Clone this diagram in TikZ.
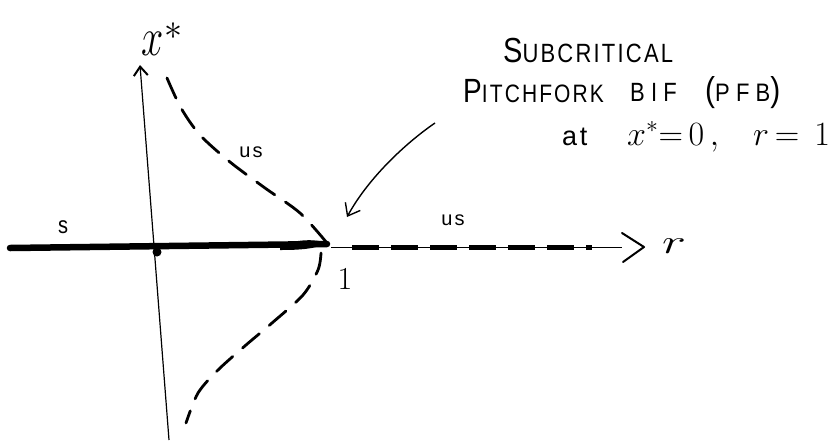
\RequirePackage{fix-cm}
\documentclass[tikz,border=0pt]{standalone}
\usepackage{fontspec}
\newfontfamily\hand[LetterSpace=10]{Liberation Sans}
\newfontfamily\handw[LetterSpace=28]{Liberation Sans}
\usetikzlibrary{arrows.meta}
\begin{document}
\begin{tikzpicture}[x=1pt,y=-1pt,
  thinax/.style={line width=1.2pt},
  stab/.style={line width=6.5pt,line cap=round},
  unst/.style={line width=2.8pt,dash pattern=on 22pt off 13pt,line cap=round},
  lbl/.style={inner sep=0pt,font=\hand\fontsize{20}{20}\selectfont},
  txt/.style={anchor=base west,inner sep=0pt},
]
\useasboundingbox (0,0) rectangle (834,440);
% vertical axis x*
\coordinate (vb) at (169,440);
\coordinate (vt) at (140,65);
\draw[thinax,-{Straight Barb[length=9pt,width=14pt,line width=2pt]}] (vb) -- (vt);
% stable branch
\coordinate (hl) at (10,248);
\coordinate (bp) at (327,244);
\draw[stab] (hl) -- (bp);
\fill (280,245) .. controls (300,239) and (315,239) .. (328,243) .. controls (315,249) and (300,250) .. (280,250) -- cycle;
\fill (157,252) circle (4.5);
% unstable branch on r axis
\coordinate (rs) at (331,247);
\coordinate (ra) at (622,247);
\draw[line width=0.8pt] (rs) -- (ra);
\draw[line width=5pt,dash pattern=on 27pt off 12pt] (352,247) -- (592,247);
\draw[line width=2pt,line cap=round,line join=round] (622,233) -- (644,247) -- (623,262);
% unstable side branches
\draw[unst] plot[smooth,tension=0.5] coordinates {(167,78) (181,108) (200,135) (230,162) (265,188) (300,213) (327,243)};
\draw[unst] plot[smooth,tension=0.5] coordinates {(321,253) (318,270) (303,295) (272,323) (246,345) (218,370) (198,393) (186,423)};
% labels
\node[lbl] (s) at (63,227) {\scalebox{1}[1.2]{s}};
\node[lbl] (us1) at (251,152) {us};
\node[lbl] (us2) at (453,220) {us};
\node[font=\fontsize{32}{32}\selectfont,inner sep=0pt] (one) at (345,279) {1};
\node[txt] (xs) at (141,55) {{\fontsize{40}{40}\selectfont\scalebox{1}[1.35]{$x$}}\kern1pt\raisebox{16pt}{\fontsize{36}{36}\selectfont$*$}};
\node[txt,font=\fontsize{34}{34}\selectfont] (r) at (662,253) {\scalebox{1.5}[1]{$r$}};
% annotation
\node[txt] (t1) at (503,62) {\scalebox{1}[1.2]{\hand\fontsize{29}{29}\selectfont S\fontsize{22}{22}\selectfont UBCRITICAL}};
\node[txt] (t2a) at (463,102) {\scalebox{1}[1.2]{\hand\fontsize{28}{28}\selectfont P\fontsize{21}{21}\selectfont ITCHFORK}};
\node[txt] (t2b) at (630,101) {\scalebox{1}[1.2]{\handw\fontsize{22}{22}\selectfont BIF}};
\node[txt] (t2c) at (705,101) {\scalebox{1}[1.15]{\handw\fontsize{22}{22}\selectfont {\fontsize{30}{30}\selectfont(}PFB{\fontsize{30}{30}\selectfont)}}};
\node[txt,font=\hand\fontsize{27}{27}\selectfont] (at) at (562,145) {at};
\node[txt,font=\fontsize{34}{34}\selectfont] (eq) at (627,145) {$x^{*}{=}\,0\,,\;\;\; r\,{=}\;\,1$};
\coordinate (ann) at (435,123);
\coordinate (tip) at (347,217);
\draw[line width=1.4pt,-{Straight Barb[length=11pt,width=17pt]}] (ann) .. controls (410,140) and (370,175) .. (tip);
\end{tikzpicture}
\end{document}
